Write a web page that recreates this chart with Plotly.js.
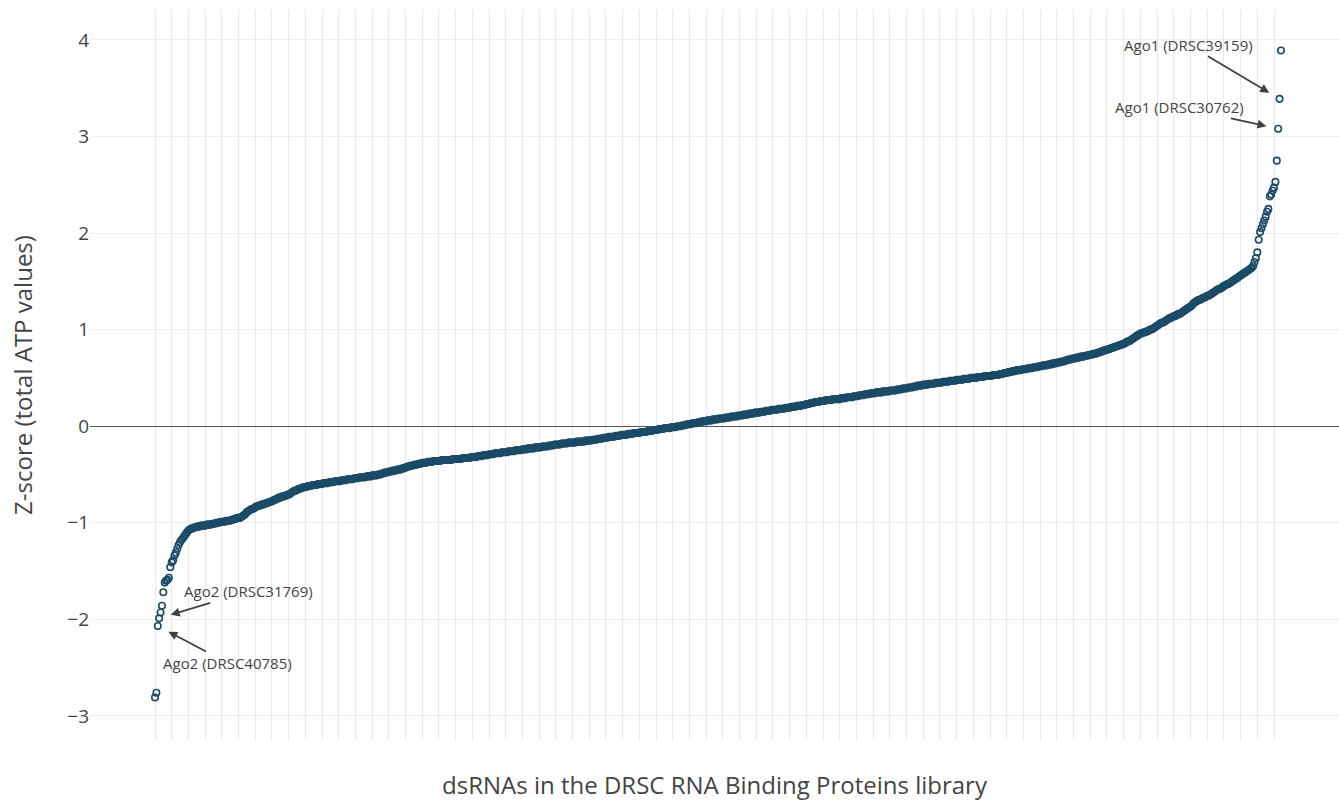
<!DOCTYPE html>
<html>
<head>
<meta charset="utf-8">
<script src="https://cdn.plot.ly/plotly-3.0.1.min.js"></script>
<style>html,body{margin:0;padding:0;background:#fff;}#chart{width:1339px;height:801px;}</style>
</head>
<body>
<div id="chart"></div>
<script>
// Sorted Z-scores (total ATP values), one per dsRNA
var zScores = [
-2.81,-2.76,-2.07,-1.99,-1.93,-1.86,-1.72,-1.62,-1.60,-1.59,
-1.57,-1.46,-1.41,-1.39,-1.34,-1.31,-1.27,-1.23,-1.20,-1.18,
-1.16,-1.14,-1.12,-1.10,-1.08,-1.07,-1.06,-1.06,-1.05,-1.05,
-1.04,-1.04,-1.04,-1.03,-1.03,-1.03,-1.03,-1.02,-1.02,-1.02,
-1.02,-1.01,-1.01,-1.01,-1.00,-1.00,-1.00,-0.99,-0.99,-0.99,
-0.99,-0.98,-0.98,-0.98,-0.98,-0.97,-0.97,-0.96,-0.96,-0.95,
-0.95,-0.95,-0.94,-0.93,-0.92,-0.91,-0.89,-0.88,-0.87,-0.86,
-0.86,-0.85,-0.84,-0.83,-0.83,-0.82,-0.82,-0.81,-0.81,-0.80,
-0.80,-0.79,-0.79,-0.78,-0.78,-0.77,-0.76,-0.76,-0.75,-0.74,
-0.74,-0.73,-0.73,-0.72,-0.72,-0.71,-0.71,-0.70,-0.69,-0.68,
-0.67,-0.67,-0.66,-0.65,-0.65,-0.64,-0.64,-0.63,-0.63,-0.63,
-0.62,-0.62,-0.62,-0.61,-0.61,-0.61,-0.61,-0.60,-0.60,-0.60,
-0.60,-0.59,-0.59,-0.59,-0.59,-0.58,-0.58,-0.58,-0.58,-0.57,
-0.57,-0.57,-0.57,-0.57,-0.56,-0.56,-0.56,-0.56,-0.55,-0.55,
-0.55,-0.55,-0.55,-0.54,-0.54,-0.54,-0.54,-0.53,-0.53,-0.53,
-0.53,-0.53,-0.52,-0.52,-0.52,-0.52,-0.51,-0.51,-0.51,-0.51,
-0.50,-0.50,-0.50,-0.49,-0.49,-0.48,-0.48,-0.48,-0.47,-0.47,
-0.47,-0.46,-0.46,-0.46,-0.45,-0.45,-0.45,-0.44,-0.44,-0.43,
-0.43,-0.42,-0.42,-0.41,-0.41,-0.41,-0.40,-0.40,-0.40,-0.39,
-0.39,-0.39,-0.38,-0.38,-0.38,-0.38,-0.37,-0.37,-0.37,-0.37,
-0.36,-0.36,-0.36,-0.36,-0.36,-0.36,-0.35,-0.35,-0.35,-0.35,
-0.35,-0.35,-0.35,-0.35,-0.34,-0.34,-0.34,-0.34,-0.34,-0.34,
-0.34,-0.33,-0.33,-0.33,-0.33,-0.33,-0.33,-0.32,-0.32,-0.32,
-0.32,-0.32,-0.31,-0.31,-0.31,-0.31,-0.30,-0.30,-0.30,-0.30,
-0.29,-0.29,-0.29,-0.29,-0.28,-0.28,-0.28,-0.28,-0.28,-0.27,
-0.27,-0.27,-0.27,-0.27,-0.26,-0.26,-0.26,-0.26,-0.26,-0.25,
-0.25,-0.25,-0.25,-0.25,-0.24,-0.24,-0.24,-0.24,-0.23,-0.23,
-0.23,-0.23,-0.23,-0.22,-0.22,-0.22,-0.22,-0.22,-0.21,-0.21,
-0.21,-0.21,-0.21,-0.20,-0.20,-0.20,-0.20,-0.19,-0.19,-0.19,
-0.19,-0.19,-0.18,-0.18,-0.18,-0.18,-0.18,-0.17,-0.17,-0.17,
-0.17,-0.17,-0.17,-0.16,-0.16,-0.16,-0.16,-0.16,-0.16,-0.15,
-0.15,-0.15,-0.15,-0.15,-0.14,-0.14,-0.14,-0.14,-0.13,-0.13,
-0.13,-0.13,-0.12,-0.12,-0.12,-0.12,-0.11,-0.11,-0.11,-0.11,
-0.11,-0.10,-0.10,-0.10,-0.10,-0.09,-0.09,-0.09,-0.09,-0.09,
-0.08,-0.08,-0.08,-0.08,-0.07,-0.07,-0.07,-0.07,-0.07,-0.06,
-0.06,-0.06,-0.06,-0.06,-0.05,-0.05,-0.05,-0.05,-0.04,-0.04,
-0.04,-0.04,-0.03,-0.03,-0.03,-0.03,-0.02,-0.02,-0.02,-0.02,
-0.02,-0.01,-0.01,-0.01,-0.01,0.00,0.00,0.00,0.00,0.01,
0.01,0.01,0.02,0.02,0.02,0.02,0.03,0.03,0.03,0.03,
0.04,0.04,0.04,0.05,0.05,0.05,0.05,0.06,0.06,0.06,
0.06,0.07,0.07,0.07,0.07,0.08,0.08,0.08,0.08,0.08,
0.09,0.09,0.09,0.09,0.10,0.10,0.10,0.10,0.10,0.11,
0.11,0.11,0.11,0.12,0.12,0.12,0.12,0.13,0.13,0.13,
0.13,0.14,0.14,0.14,0.14,0.15,0.15,0.15,0.15,0.16,
0.16,0.16,0.16,0.17,0.17,0.17,0.17,0.17,0.18,0.18,
0.18,0.18,0.18,0.19,0.19,0.19,0.19,0.20,0.20,0.20,
0.20,0.21,0.21,0.21,0.21,0.22,0.22,0.22,0.23,0.23,
0.23,0.24,0.24,0.24,0.25,0.25,0.25,0.25,0.26,0.26,
0.26,0.26,0.27,0.27,0.27,0.27,0.27,0.28,0.28,0.28,
0.28,0.28,0.28,0.29,0.29,0.29,0.29,0.30,0.30,0.30,
0.30,0.30,0.31,0.31,0.31,0.31,0.32,0.32,0.32,0.32,
0.33,0.33,0.33,0.33,0.34,0.34,0.34,0.34,0.35,0.35,
0.35,0.35,0.35,0.36,0.36,0.36,0.36,0.36,0.37,0.37,
0.37,0.37,0.37,0.38,0.38,0.38,0.38,0.39,0.39,0.39,
0.39,0.40,0.40,0.40,0.40,0.41,0.41,0.41,0.42,0.42,
0.42,0.42,0.43,0.43,0.43,0.43,0.44,0.44,0.44,0.44,
0.44,0.45,0.45,0.45,0.45,0.45,0.46,0.46,0.46,0.46,
0.46,0.47,0.47,0.47,0.47,0.47,0.48,0.48,0.48,0.48,
0.48,0.49,0.49,0.49,0.49,0.49,0.50,0.50,0.50,0.50,
0.50,0.51,0.51,0.51,0.51,0.51,0.52,0.52,0.52,0.52,
0.52,0.52,0.53,0.53,0.53,0.53,0.53,0.54,0.54,0.54,
0.55,0.55,0.55,0.56,0.56,0.56,0.57,0.57,0.57,0.58,
0.58,0.58,0.58,0.59,0.59,0.59,0.59,0.60,0.60,0.60,
0.60,0.61,0.61,0.61,0.61,0.62,0.62,0.62,0.63,0.63,
0.63,0.63,0.64,0.64,0.64,0.65,0.65,0.65,0.66,0.66,
0.66,0.67,0.67,0.67,0.68,0.68,0.69,0.69,0.69,0.70,
0.70,0.70,0.71,0.71,0.71,0.72,0.72,0.72,0.73,0.73,
0.73,0.74,0.74,0.74,0.75,0.75,0.75,0.76,0.76,0.77,
0.77,0.78,0.78,0.79,0.79,0.80,0.80,0.81,0.81,0.82,
0.82,0.83,0.83,0.84,0.84,0.85,0.85,0.86,0.87,0.88,
0.88,0.89,0.90,0.91,0.92,0.93,0.94,0.95,0.96,0.96,
0.97,0.97,0.98,0.98,0.99,1.00,1.00,1.01,1.02,1.03,
1.04,1.05,1.06,1.07,1.07,1.08,1.09,1.10,1.11,1.12,
1.12,1.13,1.14,1.14,1.15,1.16,1.16,1.17,1.18,1.19,
1.20,1.21,1.22,1.23,1.24,1.25,1.27,1.28,1.29,1.30,
1.31,1.31,1.32,1.33,1.33,1.34,1.35,1.35,1.36,1.37,
1.38,1.39,1.40,1.41,1.42,1.42,1.43,1.44,1.45,1.46,
1.47,1.47,1.48,1.49,1.50,1.51,1.52,1.53,1.54,1.55,
1.56,1.57,1.58,1.59,1.60,1.61,1.62,1.63,1.64,1.66,
1.70,1.74,1.80,1.93,2.01,2.05,2.09,2.13,2.17,2.22,
2.25,2.38,2.40,2.44,2.47,2.53,2.75,3.08,3.39,3.89
];

// Rank of each dsRNA in the sorted list (x position, categorical order)
var ranks = zScores.map(function(_, i){ return i; });
// Category grid every 12th dsRNA (as the category axis thins its ticks)
var gridStep = 12;
var gridRanks = ranks.filter(function(r){ return r % gridStep === 0; });

// Labelled dsRNAs: rank in the sorted list and label text
var labelRanks = [808, 807, 3, 2];
var labelTexts = ["Ago1 (DRSC39159)", "Ago1 (DRSC30762)", "Ago2 (DRSC31769)", "Ago2 (DRSC40785)"];
var labelOffsetsX = [-91, -99, 89, 70];
var labelOffsetsY = [-54, -22, -27, 37];

var xTitle = "dsRNAs in the DRSC RNA Binding Proteins library";
var yTitle = "Z-score (total ATP values)";

var font = '"Open Sans", "Noto Sans", sans-serif';

var trace = {
  x: ranks,
  y: zScores,
  type: 'scatter',
  mode: 'markers',
  marker: {
    symbol: 'circle-open',
    size: 6.5,
    color: '#1b4b66',
    line: {width: 1.6, color: '#1b4b66'}
  },
  hoverinfo: 'y'
};

var annotations = labelRanks.map(function(r, k){
  return {
    x: r, y: zScores[r], xref: 'x', yref: 'y',
    text: labelTexts[k],
    showarrow: true,
    ax: labelOffsetsX[k], ay: labelOffsetsY[k],
    arrowhead: 2, arrowsize: 1, arrowwidth: 1.8, arrowcolor: '#404040',
    standoff: 12,
    font: {family: font, size: 15, color: '#444'}
  };
});

var layout = {
  width: 1339, height: 801,
  margin: {l: 90, r: 0, t: 10, b: 61},
  paper_bgcolor: '#fff', plot_bgcolor: '#fff',
  font: {family: font, color: '#444'},
  showlegend: false,
  xaxis: {
    range: [-46.7, 850.7],
    tickmode: 'array', tickvals: gridRanks,
    showticklabels: false, ticks: '',
    showgrid: true, gridcolor: '#e8e8e8', gridwidth: 1,
    zeroline: false, showline: false,
    title: {text: xTitle, font: {family: font, size: 24, color: '#444'}}
  },
  yaxis: {
    range: [-3.25, 4.31],
    tickmode: 'linear', tick0: 0, dtick: 1,
    ticks: '',
    tickfont: {family: font, size: 19, color: '#444'},
    showgrid: true, gridcolor: '#eeeeee', gridwidth: 1,
    zeroline: true, zerolinecolor: '#555', zerolinewidth: 1,
    showline: false,
    title: {text: yTitle, font: {family: font, size: 24, color: '#444'}}
  },
  annotations: annotations
};

Plotly.newPlot('chart', [trace], layout, {displayModeBar: false, staticPlot: true});
</script>
</body>
</html>
